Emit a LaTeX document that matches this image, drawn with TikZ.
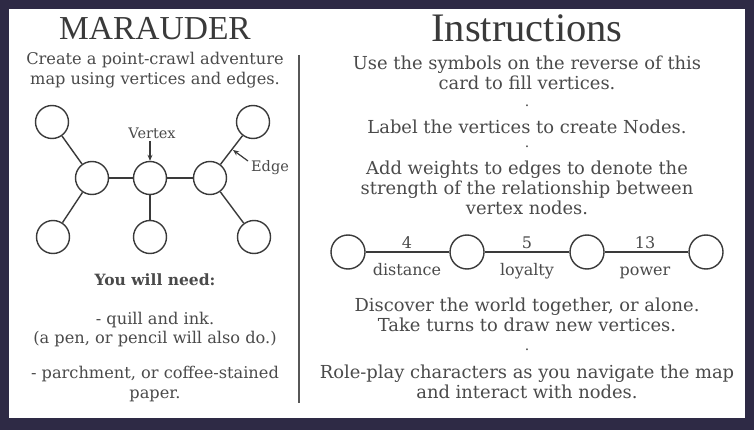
\documentclass[tikz,border=0pt]{standalone}
\usepackage{fontspec}
\setmainfont{DejaVu Serif}
\newfontfamily\titlefont{Liberation Serif}
\usetikzlibrary{arrows.meta,shapes.geometric}
\definecolor{frame}{HTML}{2E2A45}
\definecolor{ink}{HTML}{3A3A3A}
\definecolor{txt}{HTML}{4A4A4A}
\tikzset{
  vtx/.style={circle, draw=ink, line width=1.4pt, minimum size=33pt, inner sep=0pt},
  cvtx/.style={ellipse, draw=ink, line width=1.4pt, minimum width=34pt, minimum height=34pt, inner sep=0pt},
  edge/.style={draw=ink, line width=1.4pt},
  lbody/.style={text=txt, font=\fontsize{16.2}{19.5}\selectfont, align=center, inner sep=0pt},
  rbody/.style={text=txt, font=\fontsize{17.9}{20}\selectfont, align=center, inner sep=0pt},
  small/.style={text=txt, font=\fontsize{16}{18}\selectfont, inner sep=0pt, anchor=base},
  tag/.style={text=txt, font=\fontsize{14.5}{16}\selectfont, inner sep=0pt},
  dotmark/.style={text=txt, font=\fontsize{14}{14}\selectfont, inner sep=0pt, anchor=base},
  title/.style={text=ink, inner sep=0pt},
  pointer/.style={draw=ink, line width=1.2pt, -{Stealth[length=6pt,width=5pt]}},
}
\begin{document}
\begin{tikzpicture}[x=1pt,y=-1pt]
\useasboundingbox (0,0) rectangle (754,430);
\fill[frame] (0,0) rectangle (754,430);
\fill[white] (9,9) rectangle (745,418);
\draw[ink!85, line width=2pt] (299,55) -- (299,403);

% left column
\node[title, font=\titlefont\fontsize{33.5}{35}\selectfont] (t1) at (155,29) {MARAUDER};
\node[lbody] (d1) at (155,70) {Create a point-crawl adventure\\map using vertices and edges.};

\node[vtx] (tl) at (52,122) {};
\node[vtx] (ml) at (92,178) {};
\node[vtx] (mc) at (150,178) {};
\node[vtx] (mr) at (210,178) {};
\node[vtx] (tr) at (253,122) {};
\node[vtx] (bl) at (53,237) {};
\node[vtx] (bc) at (150,237) {};
\node[vtx] (br) at (254,237) {};
\draw[edge] (tl) -- (ml);
\draw[edge] (bl) -- (ml);
\draw[edge] (ml) -- (mc);
\draw[edge] (mc) -- (mr);
\draw[edge] (mc) -- (bc);
\draw[edge] (mr) -- (tr);
\draw[edge] (mr) -- (br);

\node[tag] (vl) at (152,133) {Vertex};
\coordinate (va) at (150,141);
\draw[pointer] (va) -- (mc.north);
\node[tag] (el) at (270,168) {Edge};
\coordinate (ea) at (248,161);
\coordinate (eb) at (233,150);
\draw[pointer] (ea) -- (eb);

\node[lbody, font=\fontsize{15.5}{18}\bfseries\selectfont] (need) at (155,280) {You will need:};
\node[lbody] (n1) at (155,329.5) {- quill and ink.\\(a pen, or pencil will also do.)};
\node[lbody] (n2) at (155,384) {- parchment, or coffee-stained\\paper.};

% right column
\node[title, font=\titlefont\fontsize{40.5}{42}\selectfont] (t2) at (527,28) {Instructions};
\node[rbody] (i1) at (527,72.5) {Use the symbols on the reverse of this\\card to fill vertices.};
\node[dotmark] (dot1) at (527,107) {.};
\node[rbody] (i2) at (527,127) {Label the vertices to create Nodes.};
\node[dotmark] (dot2) at (527,148) {.};
\node[rbody] (i3) at (527,188) {Add weights to edges to denote the\\strength of the relationship between\\vertex nodes.};

\node[cvtx] (c1) at (348,252) {};
\node[cvtx] (c2) at (467,252) {};
\node[cvtx] (c3) at (587,252) {};
\node[cvtx] (c4) at (706,252) {};
\draw[edge] (c1) -- (c2);
\draw[edge] (c2) -- (c3);
\draw[edge] (c3) -- (c4);
\node[small] (w1) at (407,248) {4};
\node[small] (w2) at (527,248) {5};
\node[small] (w3) at (645,248) {13};
\node[small] (l1) at (407,275) {distance};
\node[small] (l2) at (527,275) {loyalty};
\node[small] (l3) at (645,275) {power};

\node[rbody] (i4) at (527,315) {Discover the world together, or alone.\\Take turns to draw new vertices.};
\node[dotmark] (dot3) at (527,350) {.};
\node[rbody] (i5) at (527,382) {Role-play characters as you navigate the map\\and interact with nodes.};
\end{tikzpicture}
\end{document}
